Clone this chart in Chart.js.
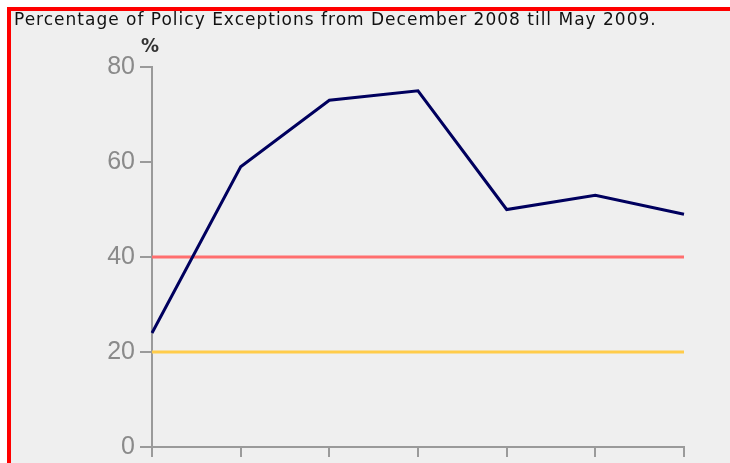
<!DOCTYPE html>
<html>
<head>
<meta charset="utf-8">
<script src="https://cdn.jsdelivr.net/npm/chart.js@4"></script>
<style>
  html, body { margin: 0; padding: 0; background: #fff; overflow: hidden; }
  #frame {
    position: absolute; left: 7px; top: 7px; width: 760px; height: 480px;
    border-left: 4px solid #ff0000; border-top: 4px solid #ff0000;
    background: #efefef;
  }
  #policyChart { position: absolute; left: 0; top: 0; }
</style>
</head>
<body>
<div id="frame"></div>
<canvas id="policyChart" width="730" height="463"></canvas>
<script>
// --- datos ---
const periods = ['Dec 2008', 'Jan 2009', 'Feb 2009', 'Mar 2009', 'Apr 2009', 'May 2009', 'Jun 2009'];
const exceptions = [24, 59, 73, 75, 50, 53, 49];
const redLimit = [40, 40, 40, 40, 40, 40, 40];
const yellowLimit = [20, 20, 20, 20, 20, 20, 20];
const yTicks = [0, 20, 40, 60, 80];
const chartTitle = 'Percentage of Policy Exceptions from December 2008 till May 2009.';

const axisGray = '#9a9a9a';

// título y "%" encima del eje Y
const headerText = {
  id: 'headerText',
  afterDraw(chart) {
    const c = chart.ctx;
    c.save();
    c.font = '17px "DejaVu Sans", sans-serif';
    c.letterSpacing = '1px';
    c.fillStyle = '#111';
    c.textAlign = 'left';
    c.textBaseline = 'middle';
    c.fillText(chartTitle, 14, 21);
    c.letterSpacing = '0px';
    c.font = 'bold 20px "Liberation Sans Narrow", "DejaVu Sans Condensed", sans-serif';
    c.fillStyle = '#333';
    c.textAlign = 'center';
    c.fillText('%', chart.chartArea.left - 2, 47);
    c.restore();
  }
};

new Chart(document.getElementById('policyChart'), {
  type: 'line',
  data: {
    labels: periods,
    datasets: [
      { data: exceptions, borderColor: '#00005e', borderWidth: 3, pointRadius: 0, tension: 0 },
      { data: redLimit, borderColor: '#ff6e6e', borderWidth: 3, pointRadius: 0 },
      { data: yellowLimit, borderColor: '#ffcc4a', borderWidth: 3, pointRadius: 0 }
    ]
  },
  options: {
    responsive: false,
    animation: false,
    layout: { padding: { left: 14, right: 46, top: 67, bottom: 6 } },
    plugins: {
      legend: { display: false },
      tooltip: { enabled: false },
      title: { display: false }
    },
    scales: {
      x: {
        offset: false,
        grid: { drawOnChartArea: false, drawTicks: true, tickLength: 10, color: axisGray, lineWidth: 2 },
        border: { display: true, color: axisGray, width: 2 },
        ticks: { display: false }
      },
      y: {
        min: 0,
        max: 80,
        afterFit(scale) {
          scale.width = 138;
          scale.paddingTop = 0;
          scale.paddingBottom = 0;
        },
        afterBuildTicks(scale) { scale.ticks = yTicks.map(v => ({ value: v })); },
        grid: { drawOnChartArea: false, drawTicks: true, tickLength: 12, color: axisGray, lineWidth: 2 },
        border: { display: true, color: axisGray, width: 2 },
        ticks: {
          color: '#8a8a8a',
          padding: 5,
          font: { family: '"Liberation Sans", Arial, sans-serif', size: 25 }
        }
      }
    }
  },
  plugins: [headerText]
});
</script>
</body>
</html>
